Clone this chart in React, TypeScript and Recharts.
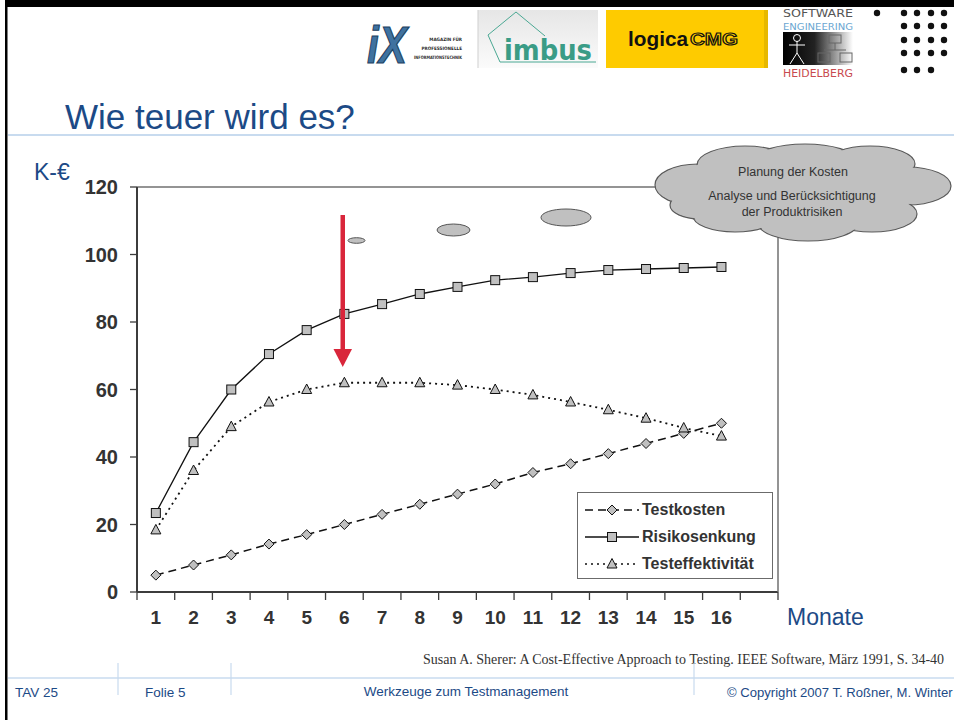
import React from 'react';
import { LineChart, Line, XAxis, YAxis, CartesianGrid, Legend } from 'recharts';

// months on the category axis; the 17th slot is the empty band at the right end
const months = ['1', '2', '3', '4', '5', '6', '7', '8', '9', '10', '11', '12', '13', '14', '15', '16', ''];
const testkosten = [5, 8, 11, 14.2, 17, 20, 23, 26, 29, 32, 35.4, 38, 41, 44, 47, 50];
const risikosenkung = [23.4, 44.4, 60, 70.5, 77.6, 82.4, 85.3, 88.3, 90.4, 92.4, 93.3, 94.5, 95.4, 95.7, 96, 96.3];
const testeffektivitaet = [18.4, 36, 49, 56.3, 60, 62, 62, 62, 61.3, 60, 58.4, 56.3, 54, 51.5, 48.6, 46.2];
const yTicks = [0, 20, 40, 60, 80, 100, 120];
const seriesOrder = ['testkosten', 'risikosenkung', 'testeffektivitaet'];

const data = months.map((month, i) => ({
  month,
  testkosten: testkosten[i] ?? null,
  risikosenkung: risikosenkung[i] ?? null,
  testeffektivitaet: testeffektivitaet[i] ?? null,
}));

const FONT = '"Liberation Sans", Arial, Helvetica, sans-serif';
const NARROW = '"DejaVu Sans Condensed", "Liberation Sans", sans-serif';
const BLUE = '#1c4a86';
const INK = '#111';
const MARK = '#c0c0c0';
const AXIS = '#3c3c3c';
const GRID = '#707070';
const X_TICK = 8;
const X_GAP = 11;

const shapes: Record<string, string> = {
  testkosten: 'diamond',
  risikosenkung: 'square',
  testeffektivitaet: 'triangle',
};
const dashes: Record<string, string | undefined> = {
  testkosten: '8 5',
  risikosenkung: undefined,
  testeffektivitaet: '2 4',
};

function marker(shape: string, cx: number, cy: number, key?: any) {
  if (shape === 'diamond') {
    return (
      <polygon key={key} points={`${cx},${cy - 5} ${cx + 5},${cy} ${cx},${cy + 5} ${cx - 5},${cy}`}
        fill={MARK} stroke={INK} strokeWidth={1} />
    );
  }
  if (shape === 'square') {
    return <rect key={key} x={cx - 4.5} y={cy - 4.5} width={9} height={9} fill={MARK} stroke={INK} strokeWidth={1} />;
  }
  return (
    <polygon key={key} points={`${cx},${cy - 5.5} ${cx + 5},${cy + 4} ${cx - 5},${cy + 4}`}
      fill={MARK} stroke={INK} strokeWidth={1} />
  );
}

const dotFor = (shape: string) => (props: any) => {
  const { cx, cy, index, value } = props;
  if (cx == null || cy == null || value == null || Number.isNaN(cy)) return <g key={index} />;
  return marker(shape, cx, cy, index);
};

// month label in the band centre, tick marks on the band edges
function MonthTick(props: any) {
  const { x, y, payload, index, visibleTicksCount } = props;
  const half = payload?.offset ?? 0;
  const top = y - X_GAP - X_TICK;
  const isLast = index === (visibleTicksCount ?? months.length) - 1;
  return (
    <g>
      <line x1={x - half} y1={top} x2={x - half} y2={top + X_TICK} stroke={AXIS} strokeWidth={1.3} />
      {isLast && <line x1={x + half} y1={top} x2={x + half} y2={top + X_TICK} stroke={AXIS} strokeWidth={1.3} />}
      <text x={x} y={y} dy="0.71em" textAnchor="middle" fontSize={19} fontWeight={700} fill="#333" fontFamily={FONT}>
        {payload.value}
      </text>
    </g>
  );
}

function LegendBox({ payload }: any) {
  const items = [...(payload || [])].sort(
    (a: any, b: any) => seriesOrder.indexOf(a.dataKey) - seriesOrder.indexOf(b.dataKey),
  );
  return (
    <div style={{
      width: 196, height: 87, boxSizing: 'border-box', border: '1px solid #6b6b6b',
      background: '#fff', padding: '3px 0 0 6px', fontFamily: FONT,
    }}>
      {items.map((entry: any) => (
        <div key={entry.dataKey} style={{ display: 'flex', alignItems: 'center', height: 27 }}>
          <svg width={56} height={14} style={{ display: 'block' }}>
            <line x1={1} y1={7} x2={55} y2={7} stroke={INK} strokeWidth={1.6} strokeDasharray={dashes[entry.dataKey]} />
            {marker(shapes[entry.dataKey], 28, 7)}
          </svg>
          <span style={{ marginLeft: 2, fontSize: 16, fontWeight: 700, color: '#333' }}>{entry.value}</span>
        </div>
      ))}
    </div>
  );
}

function Cloud() {
  const lobes = [
    [698, 185, 43, 21], [745, 165, 48, 19], [805, 160, 50, 16], [870, 164, 45, 18],
    [907, 186, 44, 19], [872, 214, 45, 18], [808, 223, 50, 18], [735, 216, 42, 16], [700, 205, 30, 14],
  ];
  return (
    <g>
      {lobes.map(([cx, cy, rx, ry], i) => (
        <ellipse key={'s' + i} cx={cx} cy={cy} rx={rx} ry={ry} fill={MARK} stroke="#5a5a5a" strokeWidth={1.2} />
      ))}
      {lobes.map(([cx, cy, rx, ry], i) => (
        <ellipse key={'f' + i} cx={cx} cy={cy} rx={rx - 1} ry={ry - 1} fill={MARK} />
      ))}
      <ellipse cx={805} cy={190} rx={115} ry={30} fill={MARK} />
      <g fontFamily={FONT} fontSize={12.5} fill="#333" textAnchor="middle">
        <text x={793} y={176}>Planung der Kosten</text>
        <text x={792} y={200}>Analyse und Berücksichtigung</text>
        <text x={792} y={216}>der Produktrisiken</text>
      </g>
    </g>
  );
}

function Logos() {
  const dots: [number, number][] = [[877, 13]];
  [13, 26, 40, 53].forEach((y) => [904, 917, 931, 944].forEach((x) => dots.push([x, y])));
  [904, 917, 931].forEach((x) => dots.push([x, 70]));
  return (
    <g fontFamily={FONT}>
      {/* iX */}
      <text x={367} y={63} fontSize={52} fontWeight={700} fontStyle="italic" fill="#3f72a0" stroke="#1d3f60"
        strokeWidth={1.2} textLength={40} lengthAdjust="spacingAndGlyphs">iX</text>
      <g fontSize={4.6} fontWeight={700} fill="#2b2b2b" textAnchor="end" fontFamily={NARROW}>
        <text x={462} y={41}>MAGAZIN FÜR</text>
        <text x={462} y={50}>PROFESSIONELLE</text>
        <text x={462} y={59} textLength={48} lengthAdjust="spacingAndGlyphs">INFORMATIONSTECHNIK</text>
      </g>
      {/* imbus */}
      <defs>
        <linearGradient id="imb" x1="0" y1="0" x2="0" y2="1">
          <stop offset="0" stopColor="#e6e6e6" />
          <stop offset="1" stopColor="#fbfbfb" />
        </linearGradient>
        <linearGradient id="se" x1="0" y1="0" x2="1" y2="0">
          <stop offset="0" stopColor="#000" />
          <stop offset="0.45" stopColor="#222" />
          <stop offset="1" stopColor="#fff" />
        </linearGradient>
      </defs>
      <rect x={478} y={10} width={120} height={58} fill="url(#imb)" />
      <line x1={478} y1={10} x2={478} y2={68} stroke="#cfcfcf" />
      <path d="M 596 62 L 500 62 L 488 35 L 516 12 L 545 36" fill="none" stroke="#4aa893" strokeWidth={1} />
      <text x={504} y={60} fontSize={29} fontWeight={700} fill="#3a9c86" fontFamily={NARROW}
        textLength={88} lengthAdjust="spacingAndGlyphs">imbus</text>
      {/* logicaCMG */}
      <rect x={606} y={10} width={158} height={58} fill="#fecb00" />
      <rect x={764} y={10} width={4} height={58} fill="#e6b800" />
      <text x={628} y={46} fontSize={21} fontWeight={700} fill="#111" textLength={60} lengthAdjust="spacingAndGlyphs">logica</text>
      <text x={690} y={45} fontSize={17} fontWeight={700} fill="#fecb00" stroke="#111" strokeWidth={1.1}
        textLength={48} lengthAdjust="spacingAndGlyphs">CMG</text>
      {/* SE Heidelberg */}
      <g fontFamily={NARROW}>
        <text x={783} y={17} fontSize={10} fill="#555" textLength={70} lengthAdjust="spacingAndGlyphs">SOFTWARE</text>
        <text x={783} y={29.5} fontSize={9.5} fill="#6ba7d2" textLength={70} lengthAdjust="spacingAndGlyphs">ENGINEERING</text>
        <text x={783} y={77} fontSize={10.5} fill="#c84a4e" textLength={70} lengthAdjust="spacingAndGlyphs">HEIDELBERG</text>
      </g>
      <rect x={783} y={32} width={70} height={33} fill="url(#se)" />
      <g stroke="#fff" strokeWidth={1} fill="none">
        <circle cx={797} cy={38} r={3.5} />
        <line x1={797} y1={41} x2={797} y2={53} />
        <line x1={789} y1={45} x2={805} y2={45} />
        <line x1={797} y1={53} x2={790} y2={64} />
        <line x1={797} y1={53} x2={804} y2={64} />
      </g>
      <g stroke="#666" strokeWidth={1} fill="none">
        <rect x={829} y={35} width={12} height={8} />
        <line x1={835} y1={43} x2={835} y2={50} />
        <line x1={824} y1={50} x2={846} y2={50} />
        <rect x={818} y={53} width={12} height={9} />
        <rect x={840} y={53} width={12} height={9} />
      </g>
      {dots.map(([x, y], i) => <circle key={i} cx={x} cy={y} r={3.2} fill="#111" />)}
    </g>
  );
}

function Overlay() {
  return (
    <svg width={954} height={720} style={{ position: 'absolute', left: 0, top: 0, pointerEvents: 'none' }}>
      <rect x={5} y={0} width={949} height={7} fill="#000" />
      <rect x={5} y={0} width={2.5} height={720} fill="#000" />
      <Logos />
      <text x={65} y={129} fontFamily={FONT} fontSize={35} fill={BLUE}>Wie teuer wird es?</text>
      <line x1={8} y1={135} x2={954} y2={135} stroke="#c8dbef" strokeWidth={2} />
      <text x={34} y={180} fontFamily={FONT} fontSize={23} fill={BLUE}>K-€</text>
      <text x={787} y={625} fontFamily={FONT} fontSize={23} fill={BLUE}>Monate</text>
      <Cloud />
      <ellipse cx={356.5} cy={240.5} rx={8.5} ry={2.8} fill={MARK} stroke="#555" strokeWidth={1} />
      <ellipse cx={453.5} cy={230} rx={16.5} ry={6} fill={MARK} stroke="#555" strokeWidth={1} />
      <ellipse cx={566} cy={217.5} rx={25} ry={8.5} fill={MARK} stroke="#555" strokeWidth={1} />
      <rect x={340.5} y={215} width={4.5} height={136} fill="#d9263b" />
      <polygon points="333.5,349 352,349 342.75,367" fill="#d9263b" />
      <text x={423} y={664} fontFamily='"Liberation Serif", "Times New Roman", serif' fontSize={14} fill="#333">
        Susan A. Sherer: A Cost-Effective Approach to Testing. IEEE Software, März 1991, S. 34-40
      </text>
      <line x1={8} y1={678} x2={954} y2={678} stroke="#c8dbef" strokeWidth={1.5} />
      <g stroke="#c8dbef" strokeWidth={1.2}>
        <line x1={118} y1={663} x2={118} y2={695} />
        <line x1={231} y1={663} x2={231} y2={695} />
        <line x1={694} y1={663} x2={694} y2={695} />
      </g>
      <g fontFamily={FONT} fontSize={13.5} fill={BLUE}>
        <text x={15} y={697}>TAV 25</text>
        <text x={145} y={697}>Folie 5</text>
        <text x={466} y={696} textAnchor="middle">Werkzeuge zum Testmanagement</text>
        <text x={727} y={697} fontSize={13.1}>© Copyright 2007 T. Roßner, M. Winter</text>
      </g>
    </svg>
  );
}

export default function App() {
  return (
    <div style={{ position: 'absolute', left: 0, top: 0, width: 954, height: 720, background: '#fff', overflow: 'hidden', fontFamily: FONT }}>
      <LineChart width={954} height={720} data={data} margin={{ top: 187, right: 175, bottom: 127, left: 77 }}>
        <CartesianGrid horizontal vertical={false} stroke={GRID} strokeWidth={1.5} />
        <XAxis dataKey="month" scale="band" height={1} interval={0} axisLine={{ stroke: AXIS, strokeWidth: 2 }}
          tickLine={false} tickSize={X_TICK} tickMargin={X_GAP} tick={<MonthTick />} />
        <YAxis yAxisId="k" domain={[0, 120]} ticks={yTicks} width={60} interval={0}
          axisLine={{ stroke: AXIS, strokeWidth: 2 }} tickLine={{ stroke: AXIS, strokeWidth: 1.3 }}
          tickSize={7} tickMargin={12} tick={{ fontSize: 20, fontWeight: 700, fill: '#333', fontFamily: FONT }} />
        <YAxis yAxisId="frame" orientation="right" domain={[0, 120]} width={1} tick={false} tickLine={false}
          axisLine={{ stroke: GRID, strokeWidth: 1.5 }} />
        <Line yAxisId="k" dataKey="testkosten" name="Testkosten" type="linear" stroke={INK}
          strokeWidth={1.5} strokeDasharray={dashes.testkosten} dot={dotFor('diamond')} activeDot={false}
          isAnimationActive={false} />
        <Line yAxisId="k" dataKey="risikosenkung" name="Risikosenkung" type="linear" stroke={INK}
          strokeWidth={1.3} dot={dotFor('square')} activeDot={false} isAnimationActive={false} />
        <Line yAxisId="k" dataKey="testeffektivitaet" name="Testeffektivität" type="linear" stroke={INK}
          strokeWidth={1.8} strokeDasharray={dashes.testeffektivitaet} dot={dotFor('triangle')} activeDot={false}
          isAnimationActive={false} />
        <Legend layout="horizontal" verticalAlign="middle" align="center" content={<LegendBox />}
          wrapperStyle={{ left: 577, top: 492, width: 196, height: 87 }} />
      </LineChart>
      <Overlay />
    </div>
  );
}
